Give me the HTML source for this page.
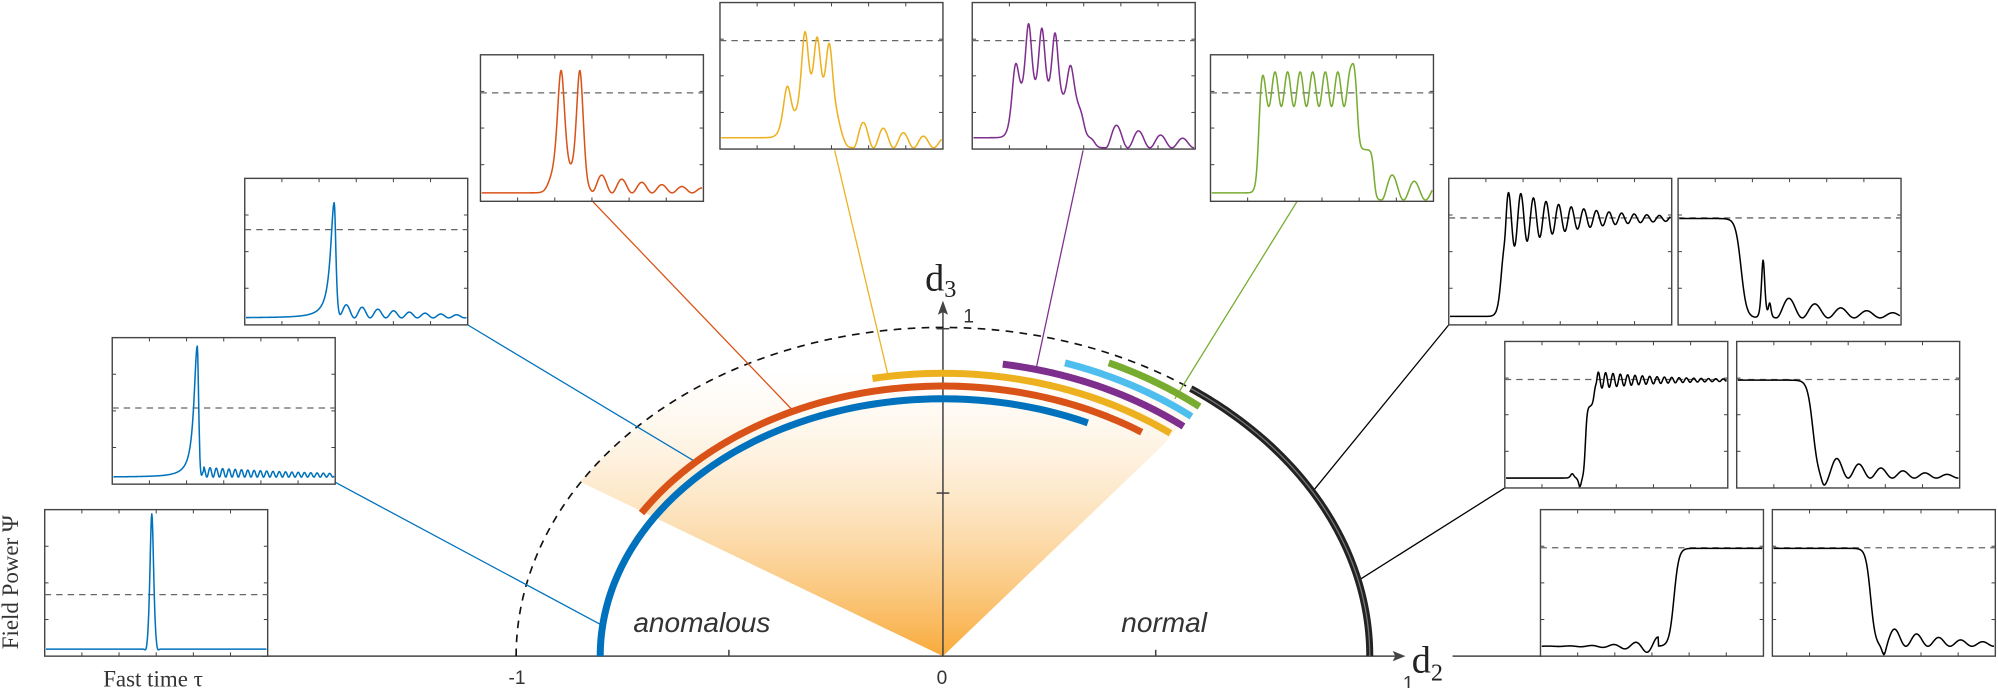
<!DOCTYPE html>
<html><head><meta charset="utf-8"><style>
html,body{margin:0;padding:0;background:#fff;width:1998px;height:688px;overflow:hidden}
svg{display:block}
</style></head><body>
<svg id="s" width="1998" height="688" viewBox="0 0 1568 540" xmlns="http://www.w3.org/2000/svg">
<defs>
<linearGradient id="g" x1="0" y1="515" x2="0" y2="290" gradientUnits="userSpaceOnUse">
<stop offset="0" stop-color="#F8A630" stop-opacity="0.95"/>
<stop offset="1" stop-color="#FCE3BC" stop-opacity="0"/>
</linearGradient>
</defs>
<g id="bg"></g>
<g id="arcs"></g>
<g id="boxes"></g>
<g font-family="Liberation Sans, sans-serif" font-style="italic" font-size="22" fill="#333">
<text x="497" y="496">anomalous</text>
<text x="880" y="496">normal</text>
</g>
<g font-family="Liberation Serif, serif" fill="#222">
<text x="726" y="228" font-size="30">d<tspan font-size="19" dy="5">3</tspan></text>
<text x="1108" y="528" font-size="30">d<tspan font-size="19" dy="6">2</tspan></text>
</g>
<g font-family="Liberation Sans, sans-serif" font-size="15" fill="#333">
<text x="399" y="537">-1</text>
<text x="735" y="537">0</text>
<text x="1101" y="541">1</text>
<text x="756" y="253">1</text>
</g>
<g font-family="Liberation Serif, serif" font-size="18" fill="#333">
<text x="120" y="539" text-anchor="middle">Fast time τ</text>
<text transform="translate(14,457) rotate(-90)" text-anchor="middle">Field Power Ψ</text>
</g>
</svg>
<script>
var NS="http://www.w3.org/2000/svg";
function el(p,t,a){var e=document.createElementNS(NS,t);for(var k in a)e.setAttribute(k,a[k]);document.getElementById(p).appendChild(e);return e;}
var cx=740,cy=515;
function ep(rx,ry,th){th=th*Math.PI/180;return [cx+rx*Math.cos(th),cy-ry*Math.sin(th)];}
function arcPath(rx,ry,a0,a1){var d="";for(var i=0;i<=120;i++){var a=a0+(a1-a0)*i/120;var p=ep(rx,ry,a);d+=(i?"L":"M")+p[0].toFixed(2)+" "+p[1].toFixed(2);}return d;}
(function(){var d="M740 515 L455 378";var a0=148,a1=52;for(var i=1;i<=60;i++){var p=ep(335,258,a0+(a1-a0)*i/60);d+="L"+p[0]+" "+p[1];}
d+="L912 350Z";el("bg","path",{d:d,fill:"url(#g)"});})();
el("bg","line",{x1:205,y1:515,x2:1100,y2:515,stroke:"#444","stroke-width":1.2});
el("bg","line",{x1:1140,y1:515,x2:1210,y2:515,stroke:"#444","stroke-width":1.2});
el("bg","path",{d:"M1103 515 L1093 511 L1095 515 L1093 519Z",fill:"#444"});
el("bg","line",{x1:740,y1:515,x2:740,y2:242,stroke:"#444","stroke-width":1.2});
el("bg","path",{d:"M740 236 L736 247 L740 245 L744 247Z",fill:"#444"});
[[572,515,572,510],[907,515,907,510],[735,387,745,387],[735,258,745,258]].forEach(function(t){el("bg","line",{x1:t[0],y1:t[1],x2:t[2],y2:t[3],stroke:"#444","stroke-width":1.2});});
el("bg","path",{d:arcPath(335,258,180,54),fill:"none",stroke:"#111","stroke-width":1.3,"stroke-dasharray":"6 5"});
el("arcs","path",{d:arcPath(335,258,54.5,0),fill:"none",stroke:"#222","stroke-width":5.5});
el("arcs","path",{d:arcPath(335,258,54.5,0),fill:"none",stroke:"#777","stroke-width":1});
var arcs=[[320,252,66,51,"#77AC30"],[310,242,72,51,"#4DBEEE"],[300,232,81,51,"#7E2F8E"],[290,222,101,52,"#EDB120"],[279,212,148,56,"#D95319"],[269,202,180,65,"#0072BD"]];
arcs.forEach(function(a){el("arcs","path",{d:arcPath(a[0],a[1],a[2],a[3]),fill:"none",stroke:a[4],"stroke-width":5.5});});
var con=[[262,378,471,490,"#0072BD"],[367,255,545,362,"#0072BD"],[465,158,622,322,"#D95319"],[655,118,697,295,"#EDB120"],[850,118,813,290,"#7E2F8E"],[1018,158,922,313,"#77AC30"],[1137,255,1030,386,"#000"],[1181,383,1067,455,"#000"]];
con.forEach(function(c){el("bg","line",{x1:c[0],y1:c[1],x2:c[2],y2:c[3],stroke:c[4],"stroke-width":1});});
function sech2(t,c,w){var x=(t-c)/w;if(Math.abs(x)>30)return 0;var ch=Math.cosh(x);return 1/(ch*ch);}
function st(t,c,w){return 0.5*(1+Math.tanh((t-c)/w));}
function rip(t,t1,a,dec,f){if(t<t1)return 0;return a*Math.exp(-(t-t1)/dec)*(1-Math.cos(2*Math.PI*f*(t-t1)))/2;}
var P=Math.PI;
var boxes=[
[35,400,"#0072BD",0.42,function(t){return .04+.94*sech2(t,.48,.011)-.03*(sech2(t,.455,.008)+sech2(t,.505,.008));}],
[88,265,"#0072BD",0.52,function(t){var c=.38,v=.04;if(t<c)v+=.91/(1+Math.pow((c-t)/.018,2));else v+=.91*sech2(t,c,.008);v+=rip(t,.395,.07,.6,35)-(t>.39&&t<.41?.03:0);return v;}],
[192,140,"#0072BD",0.65,function(t){var c=.4,v=.04;if(t<c)v+=.8/(1+Math.pow((c-t)/.02,2));else v+=.8*sech2(t,c,.01);v+=rip(t,.42,.1,.35,14);return v;}],
[377,43,"#D95319",0.74,function(t){var v=.05+.1*st(t,.3,.02)*(1-st(t,.47,.01))+.75*sech2(t,.36,.022)+.75*sech2(t,.445,.02);v+=rip(t,.5,.14,.35,11);return Math.min(v,.93);}],
[565,2,"#EDB120",0.74,function(t){var v=.07+.35*sech2(t,.3,.025)+.6*sech2(t,.38,.022)+.55*sech2(t,.435,.022)+.52*sech2(t,.49,.022)+.12*st(t,.33,.02)*(1-st(t,.54,.015));v-=.07*st(t,.56,.015);v+=rip(t,.6,.2,.35,11);return Math.max(Math.min(v,.92),0);}],
[763,2,"#7E2F8E",0.74,function(t){var v=.07+.45*sech2(t,.19,.022)+.58*sech2(t,.25,.02)+.55*sech2(t,.31,.02)+.52*sech2(t,.37,.02)+.3*sech2(t,.44,.022)+.2*st(t,.2,.02)*(1-st(t,.5,.015));v-=.07*st(t,.55,.015);v+=rip(t,.6,.18,.35,10);return Math.max(Math.min(v,.96),0);}],
[950,43,"#77AC30",0.74,function(t){var env=st(t,.21,.012)*(1-st(t,.66,.01));var v=.05+env*(.72+.12*Math.cos(2*P*(t-.23)/.057))+.3*st(t,.64,.01)*(1-st(t,.735,.01));v-=.05*st(t,.74,.01);v+=rip(t,.77,.2,.35,10);return Math.max(v,0);}],
[1137,140,"#000",0.73,function(t){return .05+.68*st(t,.235,.018)+st(t,.25,.008)*.22*Math.exp(-(t-.25)/.3)*Math.sin(2*P*(t-.25)*17.5);}],
[1317,140,"#000",0.73,function(t){var v=.04+.69*(1-st(t,.28,.025))+.4*sech2(t,.38,.01)+.1*sech2(t,.41,.008);v+=rip(t,.44,.16,.35,8.5);return v;}],
[1181,268,"#000",0.74,function(t){var v=.06+.03*sech2(t,.3,.01)-.06*sech2(t,.335,.008)+.5*st(t,.36,.008)+.18*st(t,.4,.008);v+=st(t,.41,.004)*.06*Math.exp(-(t-.41)/.3)*Math.sin(2*P*(t-.41)*30);return v;}],
[1363,268,"#000",0.74,function(t){var v=.06+.68*(1-st(t,.34,.025));v-=.06*sech2(t,.39,.015);v+=rip(t,.4,.16,.3,10);return Math.max(v,0);}],
[1209,400,"#000",0.74,function(t){var v=.06+.68*st(t,.6,.022);if(t<.53)v+=.06*Math.exp((t-.52)/.12)*Math.sin(2*P*(t-.5)*10);return Math.max(v,0);}],
[1391,400,"#000",0.74,function(t){var v=.06+.68*(1-st(t,.44,.022));v-=.06*sech2(t,.5,.012);v+=rip(t,.5,.14,.3,10);return Math.max(v,0);}]
];
var W=175,H=115;
boxes.forEach(function(b){
 var x=b[0],y=b[1];
 el("boxes","rect",{x:x,y:y,width:W,height:H,fill:"#fff",stroke:"#444","stroke-width":1.1});
 for(var i=1;i<6;i++){var tx=x+W*i/6;el("boxes","line",{x1:tx,y1:y+H,x2:tx,y2:y+H-3,stroke:"#444","stroke-width":.8});el("boxes","line",{x1:tx,y1:y,x2:tx,y2:y+3,stroke:"#444","stroke-width":.8});}
 for(var j=1;j<4;j++){var ty=y+H*j/4;el("boxes","line",{x1:x,y1:ty,x2:x+3,y2:ty,stroke:"#444","stroke-width":.8});el("boxes","line",{x1:x+W,y1:ty,x2:x+W-3,y2:ty,stroke:"#444","stroke-width":.8});}
 var dy=y+H-b[3]*H;
 el("boxes","line",{x1:x,y1:dy,x2:x+W,y2:dy,stroke:"#666","stroke-width":1,"stroke-dasharray":"5 4"});
 var d="";for(var k=0;k<=500;k++){var t=k/500;var v=b[4](t);var px=x+1+t*(W-2),py=y+H-1-v*(H-2);d+=(k?"L":"M")+px.toFixed(2)+" "+py.toFixed(2);}
 el("boxes","path",{d:d,fill:"none",stroke:b[2],"stroke-width":1.2,"stroke-linejoin":"round"});
});
</script>
</body></html>
